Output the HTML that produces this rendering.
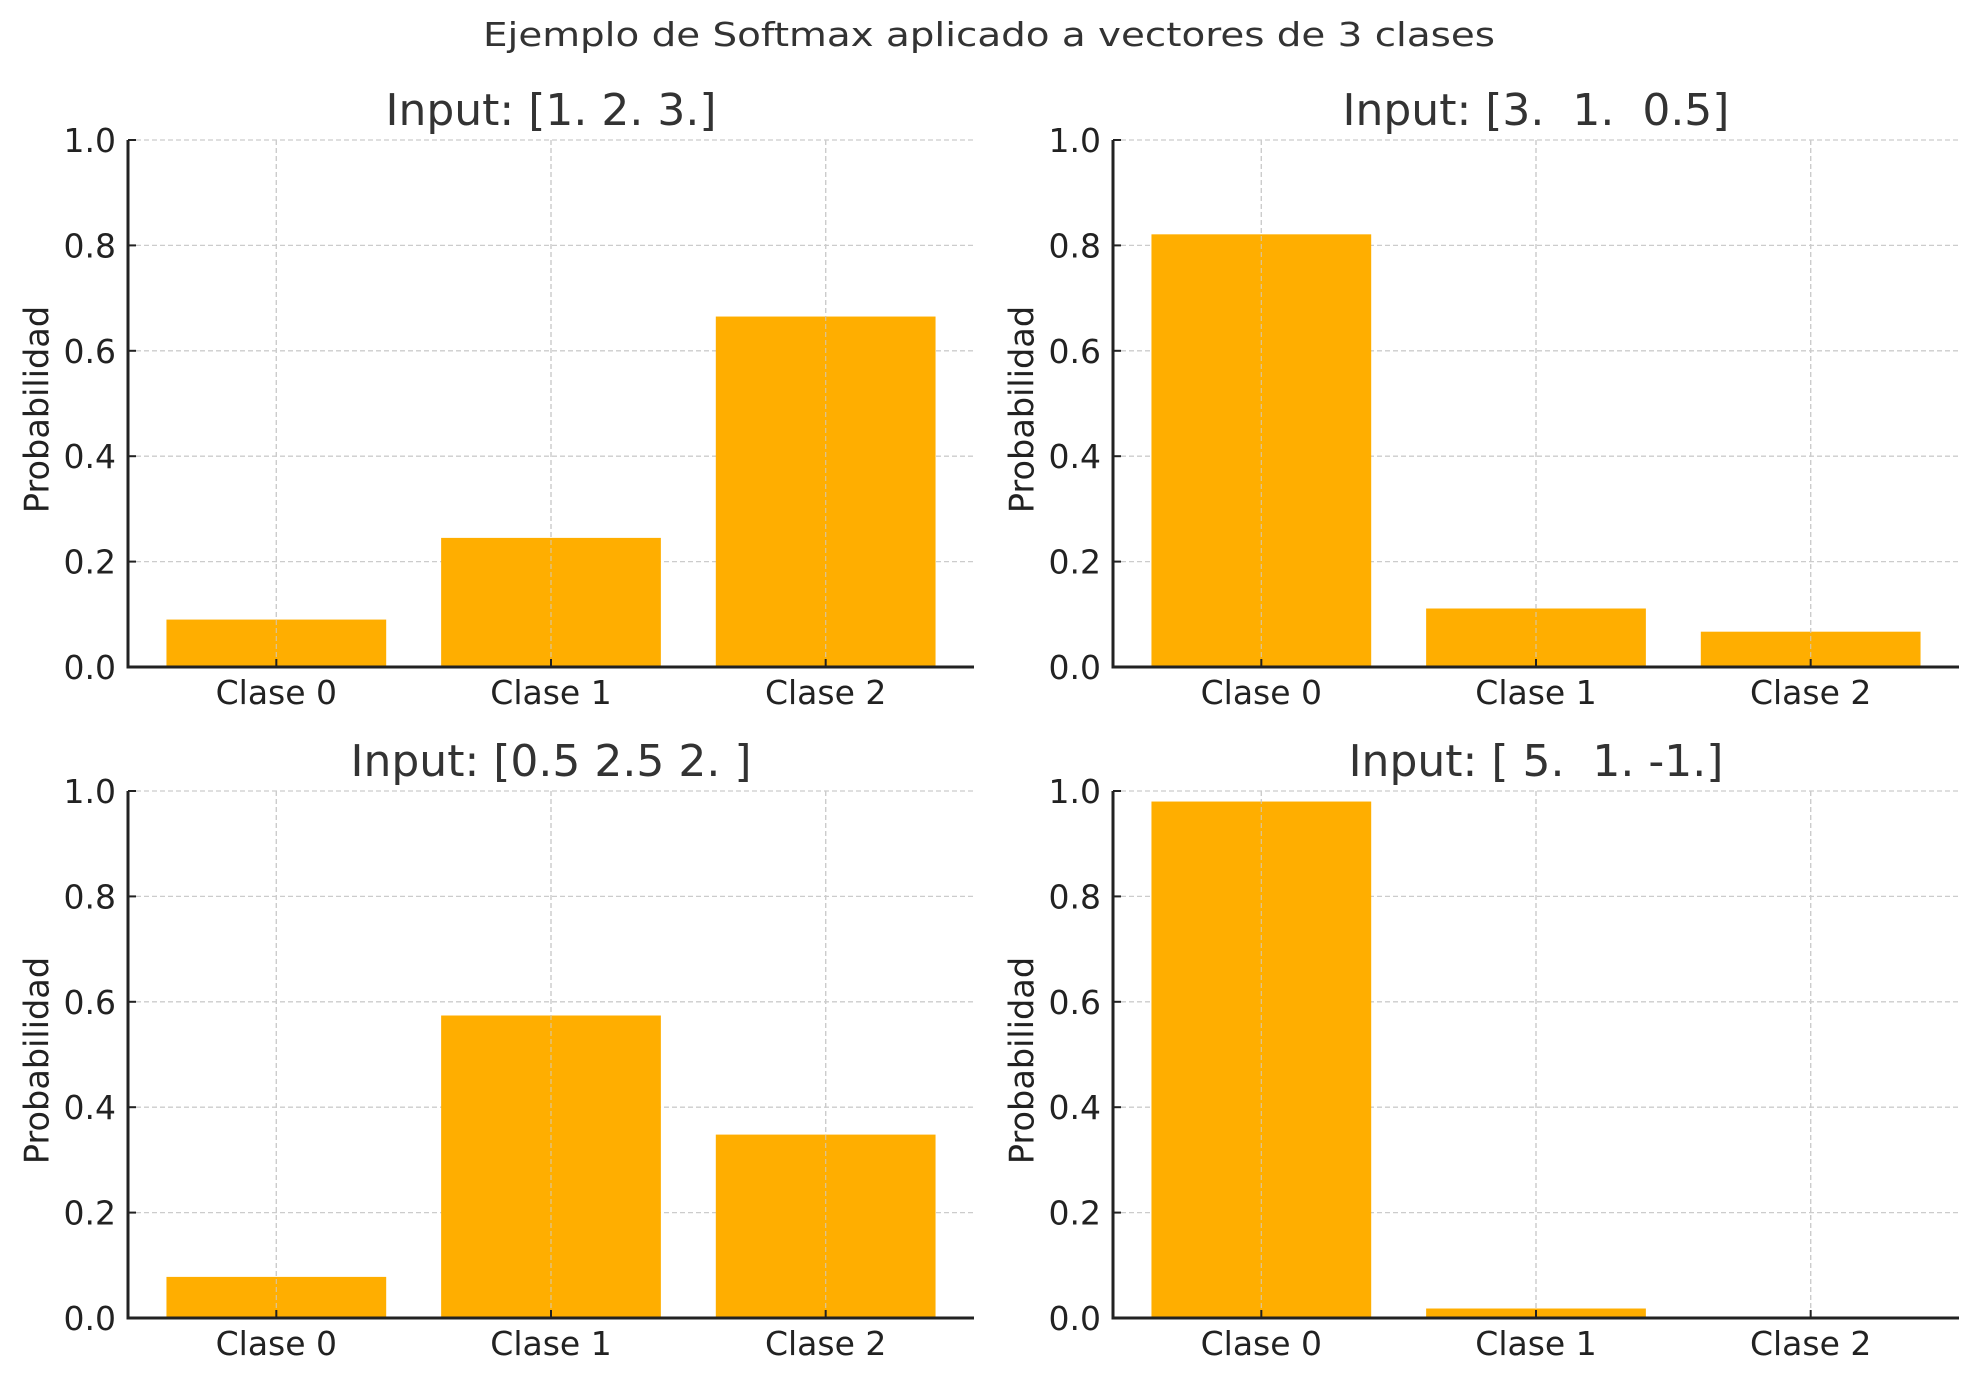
<!DOCTYPE html>
<html><head><meta charset="utf-8"><style>
html,body{margin:0;padding:0;background:#fff;}
svg{display:block;font-family:"DejaVu Sans","Liberation Sans",sans-serif;}
svg text{white-space:pre;}
</style></head><body>
<svg id="chart" width="1979" height="1381" viewBox="0 0 1979 1381" xmlns="http://www.w3.org/2000/svg" xml:space="preserve">
<rect width="1979" height="1381" fill="#fff"/>
<text x="989" y="46" text-anchor="middle" font-size="33" fill="#333" textLength="1012" lengthAdjust="spacingAndGlyphs">Ejemplo de Softmax aplicado a vectores de 3 clases</text>
</svg>
<script>
const categories = ["Clase 0", "Clase 1", "Clase 2"];
const titles = ["Input: [1. 2. 3.]", "Input: [3.  1.  0.5]", "Input: [0.5 2.5 2. ]", "Input: [ 5.  1. -1.]"];
const series0 = [0.090, 0.245, 0.665];
const series1 = [0.821, 0.111, 0.067];
const series2 = [0.078, 0.574, 0.348];
const series3 = [0.980, 0.018, 0.002];
const yTicks = [0, 0.2, 0.4, 0.6, 0.8, 1.0];
const yTickLabels = ["0.0", "0.2", "0.4", "0.6", "0.8", "1.0"];

const svg = document.getElementById('chart');
const NS = 'http://www.w3.org/2000/svg';
function mk(tag, attrs, parent) {
  const e = document.createElementNS(NS, tag);
  for (const k in attrs) e.setAttribute(k, attrs[k]);
  (parent || svg).appendChild(e);
  return e;
}
const panels = [
  {x0:128, x1:974, y0:140, y1:667, data:series0},
  {x0:1113, x1:1959, y0:140, y1:667, data:series1},
  {x0:128, x1:974, y0:791, y1:1318, data:series2},
  {x0:1113, x1:1959, y0:791, y1:1318, data:series3}
];
panels.forEach((p, i) => {
  const g = mk('g', {});
  
  
  const xs = v => p.x0 + (v + 0.54) / 3.08 * (p.x1 - p.x0);
  const ys = v => p.y1 - v * (p.y1 - p.y0);
  yTicks.forEach(t => {
    const l = mk('line', {x1:p.x0, x2:p.x1, y1:ys(t), y2:ys(t), stroke:'#cccccc', 'stroke-width':1.3, 'stroke-dasharray':'5,3'}, g);
    
    
  });
  categories.forEach((c, j) => {
    const l = mk('line', {x1:xs(j), x2:xs(j), y1:p.y0, y2:p.y1, stroke:'#cccccc', 'stroke-width':1.3, 'stroke-dasharray':'5,3'}, g);
    
    
  });
  p.data.forEach((v, j) => {
    const r = mk('rect', {x:xs(j - 0.4), width:xs(j + 0.4) - xs(j - 0.4), y:ys(v), height:ys(0) - ys(v), fill:'#FFAE00'}, g);
    
    
  });
  categories.forEach((c, j) => {
    const l = mk('line', {x1:xs(j), x2:xs(j), y1:p.y0, y2:p.y1, stroke:'#cccccc', 'stroke-width':1.3, 'stroke-dasharray':'5,3', opacity:0.7}, g);
    
    
  });
  const sl = mk('line', {x1:p.x0, x2:p.x0, y1:p.y0, y2:p.y1 + 1.5, stroke:'#222', 'stroke-width':3}, g);
  
  
  const sb = mk('line', {x1:p.x0 - 1.5, x2:p.x1, y1:p.y1, y2:p.y1, stroke:'#222', 'stroke-width':3}, g);
  
  
  yTicks.forEach((t, k) => {
    const tk = mk('line', {x1:p.x0, x2:p.x0 + 8, y1:ys(t), y2:ys(t), stroke:'#222', 'stroke-width':2}, g);
    
    
    const tl = mk('text', {x:p.x0 - 12, y:ys(t) + 12, 'text-anchor':'end', 'font-size':33, fill:'#222'}, g);
    tl.textContent = yTickLabels[k];
    
    
  });
  categories.forEach((c, j) => {
    const tk = mk('line', {x1:xs(j), x2:xs(j), y1:p.y1, y2:p.y1 - 8, stroke:'#222', 'stroke-width':2}, g);
    
    
    const tl = mk('text', {x:xs(j), y:p.y1 + 37, 'text-anchor':'middle', 'font-size':33, fill:'#222'}, g);
    tl.textContent = c;
    
    
  });
  const cy = (p.y0 + p.y1) / 2 + 6;
  const lx = p.x0 - 91;
  const yl = mk('text', {x:lx, y:cy, 'text-anchor':'middle', 'font-size':33.5, fill:'#222', transform:'rotate(-90 ' + lx + ' ' + cy + ')', dy:'0.35em'}, g);
  yl.textContent = 'Probabilidad';
  
  
  const tt = mk('text', {x:(p.x0 + p.x1) / 2, y:p.y0 - 15, 'text-anchor':'middle', 'font-size':44, fill:'#333'}, g);
  tt.textContent = titles[i];
  
  
});
</script>
</body></html>
